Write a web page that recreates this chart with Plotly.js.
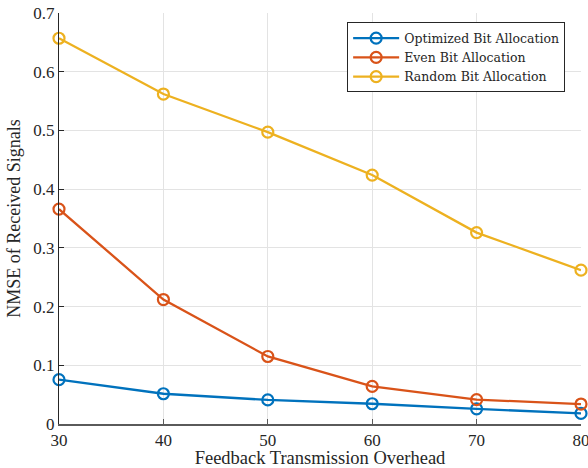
<!DOCTYPE html>
<html><head><meta charset="utf-8">
<script src="https://cdn.plot.ly/plotly-3.0.1.min.js"></script>
<style>html,body{margin:0;padding:0;background:#fff}#chart{width:588px;height:468px}</style>
</head><body><div id="chart"></div>
<script>
const overhead = [30, 40, 50, 60, 70, 80];
const optimized = [0.0755, 0.0515, 0.041, 0.0345, 0.0258, 0.018];
const even = [0.366, 0.212, 0.115, 0.064, 0.0415, 0.034];
const random = [0.657, 0.562, 0.497, 0.424, 0.326, 0.262];
const names = ['Optimized Bit Allocation', 'Even Bit Allocation', 'Random Bit Allocation'];
const colors = ['#0072BD', '#D95319', '#EDB120'];
const series = [optimized, even, random];

const font = 'Liberation Serif, Times New Roman, serif';
const legendFont = 'DejaVu Serif, serif';
const traces = series.map((ys, i) => ({
  x: overhead, y: ys, name: names[i], type: 'scatter', mode: 'lines+markers',
  line: {color: colors[i], width: 2.3},
  marker: {symbol: 'circle-open', size: 11, color: colors[i], line: {width: 2.2, color: colors[i]}},
  cliponaxis: false
}));

const layout = {
  width: 588, height: 468,
  margin: {l: 59, r: 7, t: 13, b: 44},
  paper_bgcolor: '#fff', plot_bgcolor: '#fff',
  font: {family: font, size: 17, color: '#262626'},
  showlegend: true,
  legend: {
    x: 0.552, y: 0.977, xanchor: 'left', yanchor: 'top',
    bgcolor: '#fff', bordercolor: '#262626', borderwidth: 1,
    font: {family: legendFont, size: 12.5, color: '#262626'},
    tracegroupgap: 0, itemwidth: 46
  },
  xaxis: {
    range: [30, 80], tickvals: [30, 40, 50, 60, 70, 80],
    ticklabeloverflow: 'allow',
    showgrid: true, gridcolor: '#e3e3e3', gridwidth: 1,
    zeroline: false, showline: true, linecolor: '#5a5a5a', linewidth: 1.5,
    ticks: 'inside', ticklen: 5, tickcolor: '#5a5a5a',
    tickfont: {family: font, size: 17, color: '#262626'},
    title: {text: 'Feedback Transmission Overhead', font: {family: font, size: 18.5, color: '#262626'}, standoff: 4}
  },
  yaxis: {
    range: [0, 0.7], tickvals: [0, 0.1, 0.2, 0.3, 0.4, 0.5, 0.6, 0.7],
    ticktext: ['0', '0.1', '0.2', '0.3', '0.4', '0.5', '0.6', '0.7'],
    ticklabeloverflow: 'allow',
    showgrid: true, gridcolor: '#e3e3e3', gridwidth: 1,
    zeroline: false, showline: true, linecolor: '#262626', linewidth: 1,
    ticks: 'inside', ticklen: 5, tickcolor: '#262626',
    tickfont: {family: font, size: 17, color: '#262626'},
    title: {text: 'NMSE of Received Signals', font: {family: font, size: 18, color: '#262626'}, standoff: 8}
  }
};
Plotly.newPlot('chart', traces, layout, {displayModeBar: false, staticPlot: true});
</script></body></html>
